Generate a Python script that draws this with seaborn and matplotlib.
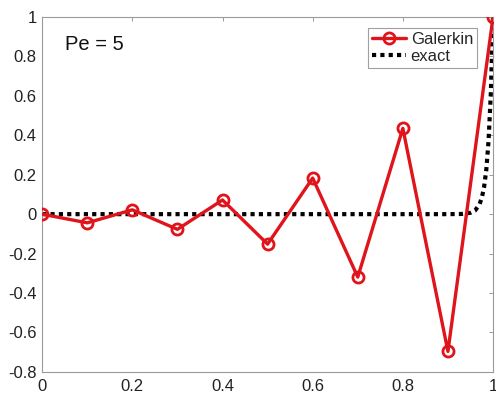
import matplotlib
matplotlib.use("Agg")
import matplotlib.pyplot as plt
import seaborn as sns
import pandas as pd

# Nodal values of the Galerkin solution on 10 elements
galerkin_x = [0.0, 0.1, 0.2, 0.3, 0.4, 0.5, 0.6, 0.7, 0.8, 0.9, 1.0]
galerkin_y = [0.0, -0.044, 0.022, -0.077, 0.072, -0.152, 0.183, -0.319, 0.435, -0.696, 1.0]

# Exact solution with its boundary layer at x = 1
exact_x = [0.0, 0.90, 0.93, 0.95, 0.96, 0.97, 0.975, 0.98, 0.985, 0.99, 0.995, 1.0]
exact_y = [0.0, 0.0, 0.001, 0.007, 0.018, 0.05, 0.082, 0.135, 0.223, 0.368, 0.607, 1.0]

x_ticks = [0, 0.2, 0.4, 0.6, 0.8, 1]
y_ticks = [-0.8, -0.6, -0.4, -0.2, 0, 0.2, 0.4, 0.6, 0.8, 1]
x_ticklabels = ["0", "0.2", "0.4", "0.6", "0.8", "1"]
y_ticklabels = ["-0.8", "-0.6", "-0.4", "-0.2", "0", "0.2", "0.4", "0.6", "0.8", "1"]

sns.set_style("white")
plt.rcParams["font.family"] = ["Liberation Sans", "DejaVu Sans"]
plt.rcParams["axes.unicode_minus"] = False

gal = pd.DataFrame({"x": galerkin_x, "u": galerkin_y})
exa = pd.DataFrame({"x": exact_x, "u": exact_y})

fig = plt.figure(figsize=(4.96, 3.94), dpi=100)
ax = fig.add_axes([0.085, 0.056, 0.909, 0.901])

sns.lineplot(data=gal, x="x", y="u", ax=ax, color="#e0141b", linewidth=2.4,
             marker="o", markersize=8, markerfacecolor="none",
             markeredgecolor="#e0141b", markeredgewidth=2.0,
             label="Galerkin", zorder=3)
sns.lineplot(data=exa, x="x", y="u", ax=ax, color="black", linewidth=3.0,
             linestyle=(0, (1, 1)), label="exact", zorder=2)

ax.set_xlim(0, 1)
ax.set_ylim(-0.8, 1)
ax.set_xticks(x_ticks)
ax.set_xticklabels(x_ticklabels)
ax.set_yticks(y_ticks)
ax.set_yticklabels(y_ticklabels)
ax.set_xlabel("")
ax.set_ylabel("")
ax.tick_params(direction="in", top=True, right=True, length=3, width=0.6,
               color="#888888", labelsize=12, labelcolor="#222222")
ax.tick_params(axis="x", pad=5)
ax.tick_params(axis="y", pad=4)
for s in ax.spines.values():
    s.set_color("#9a9a9a")
    s.set_linewidth(0.8)

ax.text(0.05, 0.95, "Pe = 5", transform=ax.transAxes, fontsize=14.5,
        ha="left", va="top", color="#111111")

leg = ax.legend(loc="upper right", bbox_to_anchor=(0.965, 0.97), fontsize=12,
                frameon=True, fancybox=False, edgecolor="#888888",
                handlelength=2.0, handletextpad=0.3, borderpad=0.25,
                labelspacing=0.15, borderaxespad=0.0)
leg.get_frame().set_linewidth(0.8)

fig.savefig("out.png", dpi=100)
